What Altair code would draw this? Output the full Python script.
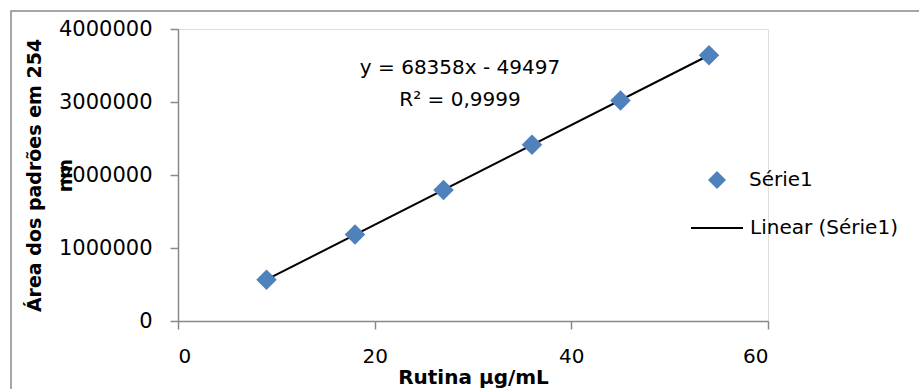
import altair as alt
import pandas as pd

# Data
conc = [9, 18, 27, 36, 45, 54]
area = [566000, 1184000, 1793000, 2414000, 3022000, 3642000]
series_name = "Série1"
trend_name = "Linear (Série1)"
equation = "y = 68358x - 49497"
r2 = "R² = 0,9999"
x_ticks = [0, 20, 40, 60]
y_ticks = [0, 1000000, 2000000, 3000000, 4000000]

df = pd.DataFrame({"conc": conc, "area": area, "serie": [series_name] * len(conc)})

FONT = "DejaVu Sans"
AXIS_GREY = "#898989"

x_enc = alt.X(
    "conc:Q",
    scale=alt.Scale(domain=[0, 60], nice=False, zero=True),
    axis=alt.Axis(
        values=x_ticks, title="Rutina µg/mL", grid=False,
        domainColor=AXIS_GREY, domainWidth=1.5, tickColor=AXIS_GREY, tickWidth=1.5,
        tickSize=8, labelPadding=17, labelFont=FONT, labelFontSize=20, labelColor="black",
        titleFont=FONT, titleFontSize=20, titleFontWeight="bold", titleColor="black",
        titleY=46,
    ),
)
y_enc = alt.Y(
    "area:Q",
    scale=alt.Scale(domain=[0, 4000000], nice=False),
    axis=alt.Axis(
        values=y_ticks, format="d", title=["Área dos padrões em 254", "nm"], grid=False,
        domainColor=AXIS_GREY, domainWidth=1.5, tickColor=AXIS_GREY, tickWidth=1.5,
        tickSize=8, labelPadding=18, labelFont=FONT, labelFontSize=21, labelColor="black",
        titleFont=FONT, titleFontSize=19, titleFontWeight="bold", titleColor="black",
        titleX=-138, titleBaseline="alphabetic", titleLineHeight=31,
    ),
)

border = alt.Chart(alt.Data(values=[{}])).mark_rect(
    fill=None, stroke=AXIS_GREY, strokeWidth=1.5, clip=False
).encode(
    x=alt.value(-167), x2=alt.value(1000), y=alt.value(-18), y2=alt.value(600)
)

points = alt.Chart(df).mark_point(
    shape="diamond", filled=True, size=420, opacity=1
).encode(
    x=x_enc,
    y=y_enc,
    color=alt.Color(
        "serie:N",
        scale=alt.Scale(domain=[series_name], range=["#4F81BD"]),
        legend=alt.Legend(
            title=None, orient="none", legendX=529, legendY=141, padding=0,
            symbolType="diamond", symbolSize=324, symbolOpacity=1, symbolStrokeWidth=0,
            labelOffset=22, labelFont=FONT, labelFontSize=20, labelColor="black", labelLimit=300,
        ),
    ),
)

trend = alt.Chart(df).transform_regression(
    "conc", "area", method="linear"
).transform_calculate(
    serie="'" + trend_name + "'"
).mark_line(strokeWidth=2).encode(
    x="conc:Q",
    y="area:Q",
    stroke=alt.Stroke(
        "serie:N",
        scale=alt.Scale(domain=[trend_name], range=["black"]),
        legend=alt.Legend(
            title=None, orient="none", legendX=512, legendY=172, padding=0,
            symbolType="stroke", symbolSize=2704, symbolStrokeWidth=2,
            labelOffset=6, labelFont=FONT, labelFontSize=20, labelColor="black", labelLimit=300,
        ),
    ),
)

eq_text = alt.Chart(alt.Data(values=[{"t": equation}])).mark_text(
    font=FONT, fontSize=20, color="black", align="center", baseline="middle"
).encode(text="t:N", x=alt.value(282), y=alt.value(39))

r2_text = alt.Chart(alt.Data(values=[{"t": r2}])).mark_text(
    font=FONT, fontSize=20, color="black", align="center", baseline="middle"
).encode(text="t:N", x=alt.value(282), y=alt.value(71))

chart = alt.layer(border, trend, points, eq_text, r2_text).properties(
    width=590, height=292,
    autosize=alt.AutoSizeParams(type="none"),
    padding={"left": 178, "top": 29, "right": 151, "bottom": 68},
).configure_view(stroke=None).configure(background="white")

chart.save("out.html", embed_options={"renderer": "svg", "actions": False})
